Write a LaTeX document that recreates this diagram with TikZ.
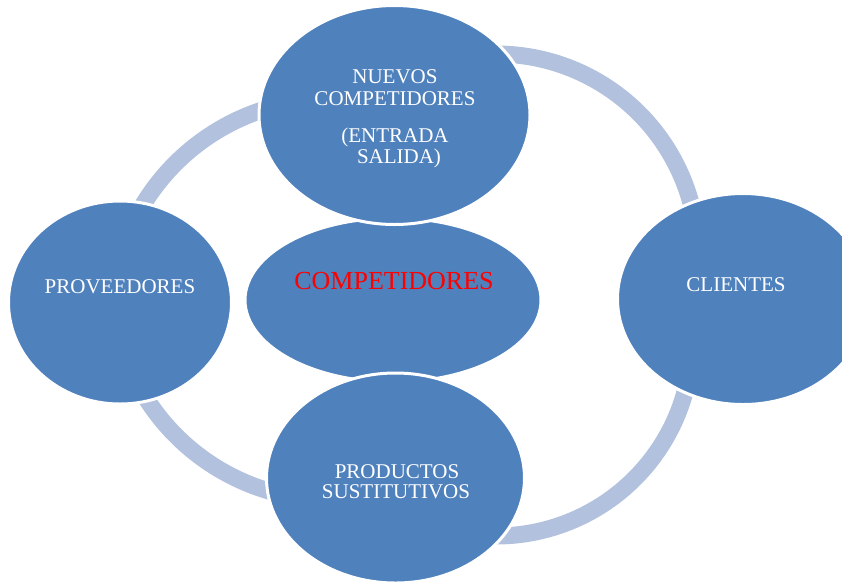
\documentclass[tikz,border=0pt]{standalone}
\usepackage{fontspec}
\setmainfont{Liberation Serif}
\usetikzlibrary{shapes.geometric}
\definecolor{ringc}{RGB}{178,193,222}
\definecolor{nodeblue}{RGB}{79,129,189}
\begin{document}
\begin{tikzpicture}[x=1pt,y=-1pt,
  bubble/.style={ellipse, fill=nodeblue, draw=white, line width=3pt, inner sep=0pt},
  lbl/.style={anchor=base, text=white, font=\fontsize{21}{21}\selectfont, inner sep=0pt},
  redlbl/.style={anchor=base, text=red, font=\fontsize{26}{26}\selectfont, inner sep=0pt},
  ring/.style={draw=ringc, line width=17pt}]
\useasboundingbox (0,0) rectangle (842,584);
% centres of the ring arcs
\coordinate (ctr) at (496,256);
\coordinate (cbr) at (496,340);
\coordinate (ctl) at (331,319);
\coordinate (cbl) at (331,281);
% ring behind the bubbles
\draw[ring] (ctr) ++(-100:202) arc[start angle=-100, end angle=-5, radius=202];
\draw[ring] (cbr) ++(5:196) arc[start angle=5, end angle=100, radius=196];
\draw[ring] (ctl) ++(200:220) arc[start angle=200, end angle=265, radius=220];
\draw[ring] (cbl) ++(95:219) arc[start angle=95, end angle=160, radius=219];
% bubbles
\node[bubble, minimum width=296pt, minimum height=164pt] (comp) at (393,300) {};
\node[bubble, minimum width=271pt, minimum height=219pt] (nuevos) at (394.5,115) {};
\node[bubble, minimum width=258pt, minimum height=210pt] (prod) at (395.5,478) {};
\node[bubble, minimum width=223pt, minimum height=203pt] (prov) at (120,302.5) {};
\node[bubble, minimum width=251pt, minimum height=211pt] (cli) at (743,299) {};
% texts
\node[lbl] (t1) at (395,83) {NUEVOS};
\node[lbl] (t2) at (395,105) {COMPETIDORES};
\node[lbl] (t3) at (395,142) {(ENTRADA};
\node[lbl] (t4) at (399,163) {SALIDA)};
\node[redlbl] (tc) at (394,289) {COMPETIDORES};
\node[lbl] (tp) at (120,293) {PROVEEDORES};
\node[lbl] (tcl) at (736,291) {CLIENTES};
\node[lbl] (tpr1) at (397,478) {PRODUCTOS};
\node[lbl] (tpr2) at (396,498) {SUSTITUTIVOS};
\end{tikzpicture}
\end{document}
